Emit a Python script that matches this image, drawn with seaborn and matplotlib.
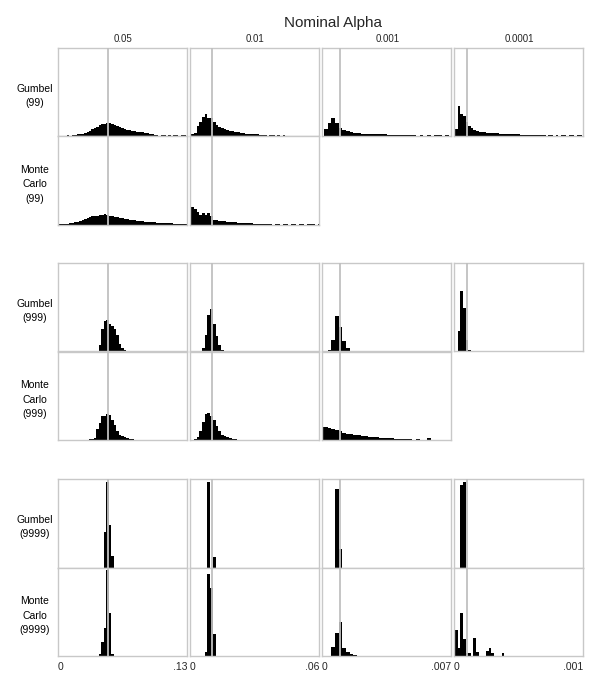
import numpy as np
import pandas as pd
import matplotlib
matplotlib.use("Agg")
import matplotlib.pyplot as plt
import seaborn as sns

# nominal alpha levels (columns) and the x range used in each column
alphas = [0.05, 0.01, 0.001, 0.0001]
alpha_labels = ["0.05", "0.01", "0.001", "0.0001"]
x_max = [0.13, 0.06, 0.007, 0.001]
x_max_labels = [".13", ".06", ".007", ".001"]
bin_width = [0.0025, 0.00125, 0.0002, 0.00002]

row_labels = ["Gumbel\n(99)", "Monte\nCarlo\n(99)",
              "Gumbel\n(999)", "Monte\nCarlo\n(999)",
              "Gumbel\n(9999)", "Monte\nCarlo\n(9999)"]

# frequency of each bin (bin k is centred on k * bin width); same scale in every panel
YMAX = 88

gum99_05 = [0, 0, 0, 0, 0.5, 0, 0.5, 1, 1.5, 1.5, 2, 3, 4, 5, 7, 8, 9, 11, 12, 12, 13, 12.5, 12, 10.5,
            10, 8.5, 8, 7, 6, 5.5, 5, 4.5, 4, 4, 3.5, 3, 3, 2, 1.5, 1, 0.5, 0, 0.5, 0.5, 0, 0.5, 0,
            0.5, 0.5, 0, 0.5, 0.5]
gum99_01 = [0, 2, 3.3, 10, 14, 19, 21.7, 18.3, 17.5, 14, 11, 9, 7.5, 6.7, 6, 5, 4.5, 4, 3.5, 2.7, 2.7,
            2.3, 1.7, 1.7, 1.5, 1.5, 1.3, 1, 0.7, 0, 0.5, 0.5, 0, 0.5, 0, 0.5]
gum99_001 = [0, 7.3, 13.3, 17.7, 13.3, 8.3, 6, 5, 4, 3, 3, 2.3, 2.3, 2.3, 2, 2, 1.7, 1.7, 1.3, 1, 1, 1,
             1, 1, 1, 0.7, 0, 0.7, 0, 0.7, 0, 0.7, 0.7, 0, 0.7]
gum99_0001 = [2, 6.7, 30, 22, 20, 14, 10, 7.5, 6, 5, 4, 3.7, 3.5, 3.3, 3, 3, 2.7, 2.5, 2.3, 2.3, 2.3, 2,
              2, 1.7, 1.7, 1.7, 1.3, 1.3, 1, 1, 1, 0.7, 0.7, 0.7, 0.5, 0.7, 0, 0.5, 0.5, 0, 0.5, 0,
              0.5, 0.5, 0, 0.5, 0.5, 0, 0.5, 0.5]

mc99_05 = [0, 0.5, 0.5, 0.7, 0.8, 1, 1.5, 2, 2.5, 3.3, 4.5, 5.5, 6.5, 7, 8, 8.5, 8.5, 9, 9.5, 10, 9.5, 8,
           8, 7.5, 7, 6.5, 6, 5.5, 5, 4.5, 4.3, 4, 3.5, 3.3, 3, 2.7, 2.5, 2.3, 2, 2, 1.7, 1.5, 1.3,
           1.3, 1, 1, 1, 0.7, 0.7, 0.7, 0.7, 0.5, 0.5]
mc99_01 = [16, 17, 15, 12.5, 9.5, 11, 9, 11, 8, 4.3, 4.5, 3.5, 3.5, 3, 2.7, 2.5, 2.3, 2, 1.7, 1.5, 1.3,
           1.3, 1, 1, 0.7, 0.7, 0.7, 0.5, 0.7, 0.5, 0.5, 0, 0.5, 0.5, 0, 0.5, 0.5, 0, 0.5, 0.5, 0,
           0.5, 0.5, 0, 0.5, 0.5, 0.5, 0, 0.5]

gum999_05 = [0] * 17 + [6.7, 22, 30, 31, 27, 25, 22, 16, 7, 3, 1]
gum999_01 = [0, 0, 0, 0, 0.5, 3, 16, 36, 42, 27, 15, 6, 1]
gum999_001 = [0, 0, 1, 11.7, 35, 24, 10, 3.3, 0.7]
gum999_0001 = [0, 0.7, 20, 60, 43, 11, 1.7, 0.5]

mc999_05 = [0] * 13 + [0.5, 1, 2, 10.7, 17.3, 24, 24, 26, 25, 20, 15, 9, 5, 3.5, 2.5, 2, 1, 0.5]
mc999_01 = [0, 0, 1, 3, 9, 18, 26, 27, 23.5, 20, 14, 9, 5, 3.5, 2.5, 1.7, 1, 0.5]
mc999_001 = [13.3, 12.5, 11.5, 10.7, 10.3, 9, 7, 6.3, 5.7, 5, 4.5, 4, 3.5, 3.3, 3, 2.7, 2.3, 2, 1.7,
             1.7, 1.3, 1, 1, 1, 0.7, 0, 0.7, 0, 0, 1.7]

gum9999_05 = [0] * 19 + [35.7, 85, 42, 11.7]
gum9999_01 = [0, 0, 0, 0, 0, 0, 0, 85, 0, 10]
gum9999_001 = [0, 0, 0, 0, 78.3, 18.3]
gum9999_0001 = [0, 0, 0, 81.7, 85]

mc9999_05 = [0] * 17 + [2, 14.3, 27.7, 86, 42.7, 2]
mc9999_01 = [0, 0, 0, 0, 0, 0, 3.7, 82, 68, 22]
mc9999_001 = [0, 0, 0, 8.7, 22.7, 33.7, 8, 3.7, 2, 1]
mc9999_0001 = [0, 26, 8, 42.7, 17, 2.7, 2.7, 0, 18, 4, 0, 0, 0, 5.3, 7.7, 3, 0, 0, 0, 3]

panels = [
    [gum99_05, gum99_01, gum99_001, gum99_0001],
    [mc99_05, mc99_01, None, None],
    [gum999_05, gum999_01, gum999_001, gum999_0001],
    [mc999_05, mc999_01, mc999_001, None],
    [gum9999_05, gum9999_01, gum9999_001, gum9999_0001],
    [mc9999_05, mc9999_01, mc9999_001, mc9999_0001],
]

sns.set_style("white")
plt.rcParams["font.family"] = ["Liberation Sans", "DejaVu Sans"]

W, H = 600, 684
fig = plt.figure(figsize=(W / 100, H / 100), dpi=100)

col_left = [58, 190, 322, 454]
col_w = 129
row_top = [47.5, 136, 263, 351.5, 479, 567.5]
row_h = 88.5
border = "#c8c8c8"

for r, row in enumerate(panels):
    for c, heights in enumerate(row):
        if heights is None:
            continue
        ax = fig.add_axes([col_left[c] / W, 1 - (row_top[r] + row_h) / H, col_w / W, row_h / H])
        w = bin_width[c]
        k = np.arange(len(heights))
        df = pd.DataFrame({"rate": k * w, "freq": heights})
        # filled step outline: solid black bars without seams between neighbours
        sns.histplot(data=df, x="rate", weights="freq", binwidth=w,
                     binrange=(-0.5 * w, (len(heights) - 0.5) * w), ax=ax,
                     element="step", fill=True, color="black", alpha=1, linewidth=0)
        ax.axvline(alphas[c], color="#c0c0c0", lw=1.3, zorder=5)
        ax.set_xlim(0, x_max[c])
        ax.set_ylim(0, YMAX)
        ax.set_xlabel("")
        ax.set_ylabel("")
        ax.set_yticks([])
        for s in ax.spines.values():
            s.set_color(border)
            s.set_linewidth(1.0)
        if r == len(panels) - 1:
            ax.set_xticks([0, x_max[c]])
            ax.set_xticklabels(["0", x_max_labels[c]])
            ax.tick_params(axis="x", length=0, labelsize=7.5, pad=4.5)
            lab = ax.get_xticklabels()
            lab[0].set_ha("left")
            lab[1].set_ha("right")
        else:
            ax.set_xticks([])

    yc = row_top[r] + row_h / 2 + 4
    fig.text(35 / W, 1 - yc / H, row_labels[r], ha="center", va="center",
             fontsize=7.5, linespacing=1.55, color="black")

for c in range(4):
    fig.text((col_left[c] + col_w / 2 + 1) / W, 1 - 39 / H, alpha_labels[c],
             ha="center", va="center", fontsize=7)

fig.text(333 / W, 1 - 23 / H, "Nominal Alpha", ha="center", va="center", fontsize=11)

fig.savefig("out.png", dpi=100)
